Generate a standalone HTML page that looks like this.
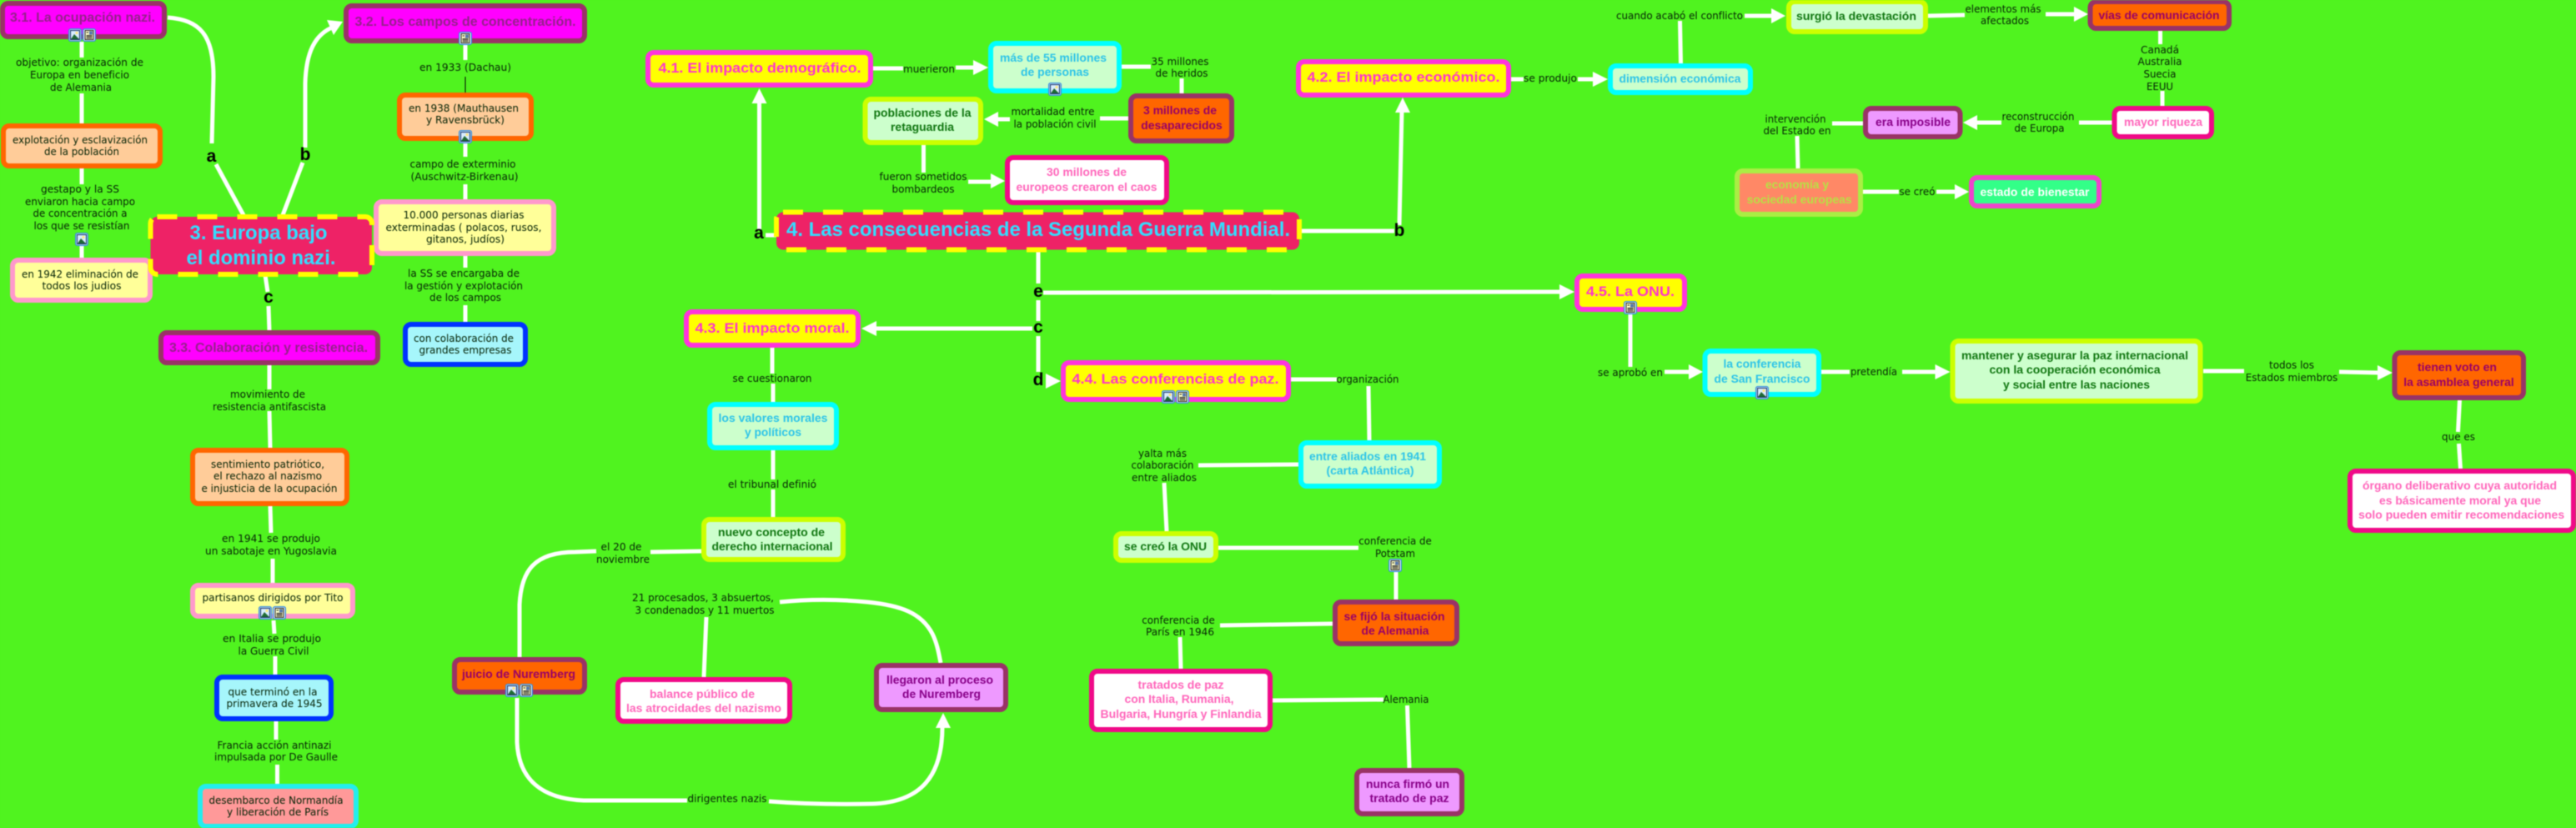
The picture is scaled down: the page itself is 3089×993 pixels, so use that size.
<!DOCTYPE html>
<html lang="es"><head><meta charset="utf-8"><title>Europa bajo el dominio nazi</title>
<style>
html,body{margin:0;padding:0;background:#50f31f;width:3089px;height:993px;overflow:hidden}
svg{display:block;filter:blur(.4px)}
.c{fill:none;stroke:#fff;stroke-width:5}
.a{fill:#fff}
rect{stroke-width:6}
.mag{fill:#f0f;stroke:#993366}.yel{fill:#ff0;stroke:#ff33dd}.cya{fill:#ccffcc;stroke:#0ff}.lim{fill:#ccffcc;stroke:#ccff00}
.org{fill:#ff6600;stroke:#993366}.wht{fill:#fff;stroke:#f00a88}.pur{fill:#ee99ff;stroke:#993366}
.peach{fill:#ffcc99;stroke:#ff6600}.lemon{fill:#ffff99;stroke:#ff99cc}.sky{fill:#a6f6fb;stroke:#0033ff}.ros{fill:#ff9999;stroke:#22eeee}
.eco{fill:#ff8866;stroke:#aaee44}.bien{fill:#33ff88;stroke:#ee44cc}
.main{fill:#ee2266;stroke:#ff0;stroke-dasharray:24 24}
text{text-anchor:middle}
.l{font:12px "DejaVu Sans",sans-serif;fill:#062406}
.b{font:bold 14px "Liberation Sans",sans-serif}
.t{font:bold 16px "Liberation Sans",sans-serif}
.t4{font:bold 17px "Liberation Sans",sans-serif;fill:#ff33cc}
.m{font:bold 24px "Liberation Sans",sans-serif;fill:#33ddff}
.k{font:bold 21px "Liberation Sans",sans-serif;fill:#000}
.pm{fill:#96208c}.pc{fill:#2cc4e8}.pg{fill:#117711}.po{fill:#990066}.pw{fill:#ff66bb}.pp{fill:#880088}
</style></head><body>
<svg xmlns="http://www.w3.org/2000/svg" width="3089" height="993" viewBox="0 0 3089 993">
<defs>
<g id="im"><rect x=".7" y=".7" width="14.6" height="14.6" rx="2" fill="#fff" stroke="#3a8fdc" style="stroke-width:1.4"/><rect x="2.5" y="2.5" width="11" height="11" fill="#d8ecff" stroke="#0b2a66" style="stroke-width:1"/><circle cx="10" cy="5.5" r="1.6" fill="#ffe680"/><path d="M3 13 L7 7 L13 13Z" fill="#1f6b33"/></g>
<g id="dc"><rect x=".7" y=".7" width="14.6" height="14.6" rx="2" fill="#fff" stroke="#3a8fdc" style="stroke-width:1.4"/><rect x="3" y="2.5" width="10" height="11" fill="#ffffc8" stroke="#222" style="stroke-width:1"/><rect x="8" y="3.5" width="4" height="4" fill="#5577aa" style="stroke-width:0"/><path d="M4.5 5h2.5M4.5 8.5h7M4.5 10h7M4.5 11.7h7" stroke="#222" fill="none"/></g>
</defs>
<rect x="0" y="0" width="3089" height="993" fill="#50f31f" style="stroke-width:0"/>

<!-- connectors: left -->
<path class="c" d="M201,21 C240,24 256,42 256,92 L254,172"/>
<path class="c" d="M259,197 L292,258"/>
<path class="c" d="M339,258 L363,195"/>
<path class="c" d="M366,177 L366,100 C367,62 378,42 398,33"/>
<polygon class="a" points="411,26 392,24 400,42"/>
<path class="c" d="M318,330 L321,350"/>
<path class="c" d="M322,367 L323,397"/>
<path class="c" d="M98,50 V69"/><path class="c" d="M98,112 V148"/><path class="c" d="M98,202 V221"/><path class="c" d="M98,295 V309"/>
<path class="c" d="M558,54 V72"/><path d="M558,92 V111" stroke="#000" stroke-width="1" fill="none"/>
<path class="c" d="M558,172 V188"/><path class="c" d="M558,221 V239"/><path class="c" d="M558,307 V321"/><path class="c" d="M558,366 V386"/>
<path class="c" d="M323,438 V467"/><path class="c" d="M323,493 L324,537"/>
<path class="c" d="M324,607 L325,639"/><path class="c" d="M327,670 V699"/><path class="c" d="M328,744 L329,760"/><path class="c" d="M330,787 L330,809"/>
<path class="c" d="M331,865 V887"/><path class="c" d="M332.5,917 V940"/>

<!-- connectors: Nuremberg -->
<path class="c" d="M623,788 L623,725 C625,685 640,662 690,662 L715,661"/>
<path class="c" d="M620,837 L620,890 C622,935 650,958 700,960 L824,960"/>
<path class="c" d="M922,961 C960,964 1000,965 1046,964 C1105,962 1130,930 1130,872"/>
<polygon class="a" points="1131,855 1122,873 1140,873"/>
<path class="c" d="M841,661 L780,662"/>
<path class="c" d="M935,722 C965,719 1000,718 1040,722 C1080,726 1105,735 1118,760 C1124,772 1126,785 1128,795"/>
<path class="c" d="M847,740 L844,812"/>

<!-- connectors: 4 -->
<path class="c" d="M1047,82 H1083"/><path class="c" d="M1146,81 H1168"/><polygon class="a" points="1185,81 1167,72 1167,90"/>
<path class="c" d="M1345,80 H1380"/><path class="c" d="M1417,94 V113"/>
<path class="c" d="M1353,142 H1319"/><path class="c" d="M1211,143 H1196"/><polygon class="a" points="1180,143 1197,134 1197,152"/>
<path class="c" d="M1107.5,174 V207"/><path class="c" d="M1161,218 H1190"/><polygon class="a" points="1205,217 1188,208 1188,226"/>
<path class="c" d="M910.5,275 V122"/><polygon class="a" points="910.5,106 901.5,124 919.5,124"/>
<path class="c" d="M918,282 H931"/>
<path class="c" d="M1561,277 H1672"/><path class="c" d="M1678,270 L1681,133"/><polygon class="a" points="1682,117 1673,135 1691,135"/>
<path class="c" d="M1245,302 V340"/><path class="c" d="M1245,360 V385"/><path class="c" d="M1245,403 V446"/>
<path class="c" d="M1251,351 L1872,350"/><polygon class="a" points="1888,350 1870,341 1870,359"/>
<path class="c" d="M1238,394 H1049"/><polygon class="a" points="1033,394 1051,385 1051,403"/>
<polygon class="a" points="1272,457 1254,448 1254,466"/>
<path class="c" d="M926,417 V448"/><path class="c" d="M927,460 V482"/><path class="c" d="M927,540 V575"/><path class="c" d="M927,587 V620"/>

<path class="c" d="M1548,455 H1603"/><path class="c" d="M1641,463 L1642,528"/>
<path class="c" d="M1557,557 L1437,558"/><path class="c" d="M1396,579 L1399,637"/>
<path class="c" d="M1461,657 H1629"/><path class="c" d="M1674,686 V719"/>
<path class="c" d="M1598,748 L1463,750"/><path class="c" d="M1415,764 L1416,802"/>
<path class="c" d="M1526,840 L1659,839"/><path class="c" d="M1687.5,846 L1690,921"/>

<path class="c" d="M1812,95 H1827"/><path class="c" d="M1892,95 H1912"/><polygon class="a" points="1928,95 1910,86 1910,104"/>
<path class="c" d="M2015.5,76 L2014.5,25"/><path class="c" d="M2092,19 H2126"/><polygon class="a" points="2141,19 2124,10 2124,28"/>
<path class="c" d="M2312,19 L2356,18"/><path class="c" d="M2453,17 H2489"/><polygon class="a" points="2504,17 2487,8 2487,26"/>
<path class="c" d="M2590.5,37 V53"/><path class="c" d="M2593,109 V127"/>
<path class="c" d="M2533,147 H2493"/><path class="c" d="M2400,147 H2369"/><polygon class="a" points="2354,147 2371,138 2371,156"/>
<path class="c" d="M2234,148 H2197"/><path class="c" d="M2155,163 L2156,202"/>
<path class="c" d="M2234,230 H2277"/><path class="c" d="M2322,230 H2346"/><polygon class="a" points="2361,230 2344,221 2344,239"/>
<path class="c" d="M1955,377 V440"/><path class="c" d="M1996,446 H2027"/><polygon class="a" points="2042,446 2025,437 2025,455"/>
<path class="c" d="M2184,446 H2218"/><path class="c" d="M2281,446 H2322"/><polygon class="a" points="2338.5,446 2320.5,437 2320.5,455"/>
<path class="c" d="M2642,445 H2691"/><path class="c" d="M2805,446 L2852,447"/><polygon class="a" points="2869,447 2851,438 2851,456"/>
<path class="c" d="M2949.5,480 L2947.5,518"/><path class="c" d="M2948.5,532 L2950.5,562"/>

<!-- nodes left -->
<rect class="mag" x="3" y="4" width="194" height="40" rx="7"/>
<rect class="mag" x="415" y="7" width="286" height="42" rx="7"/>
<rect class="peach" x="4" y="151" width="188" height="48" rx="7"/>
<rect class="lemon" x="15" y="312" width="165" height="48" rx="7"/>
<rect class="peach" x="479" y="114" width="158" height="52" rx="7"/>
<rect class="lemon" x="451" y="242" width="213" height="62" rx="7"/>
<rect class="sky" x="486" y="389" width="144" height="48" rx="7"/>
<rect class="main" x="180.5" y="260" width="265.5" height="69" rx="8"/>
<rect class="mag" x="193" y="399" width="260" height="36" rx="7"/>
<rect class="peach" x="231" y="540" width="185" height="64" rx="7"/>
<rect class="lemon" x="231" y="702" width="192" height="37" rx="7"/>
<rect class="sky" x="260" y="812" width="137" height="50" rx="7"/>
<rect class="ros" x="240" y="943" width="187" height="48" rx="7"/>
<!-- nodes 4 -->
<rect class="main" x="931" y="254.5" width="627" height="45" rx="8"/>
<rect class="yel" x="777" y="63" width="267" height="39" rx="7"/>
<rect class="cya" x="1188" y="52" width="154" height="57" rx="7"/>
<rect class="org" x="1356" y="115" width="121" height="54" rx="7"/>
<rect class="lim" x="1037.5" y="119" width="138.5" height="52" rx="7"/>
<rect class="wht" x="1208" y="189" width="191" height="54" rx="7"/>
<rect class="yel" x="823" y="374" width="206" height="40" rx="7"/>
<rect class="yel" x="1275" y="435" width="270" height="44" rx="7"/>
<rect class="cya" x="851" y="485" width="152" height="52" rx="7"/>
<rect class="lim" x="844" y="623" width="167" height="48" rx="7"/>
<rect class="org" x="545" y="791" width="156" height="39" rx="7"/>
<rect class="wht" x="741" y="815" width="206" height="50" rx="7"/>
<rect class="pur" x="1051" y="798" width="155" height="53" rx="7"/>
<rect class="cya" x="1560" y="531" width="166" height="52" rx="7"/>
<rect class="lim" x="1338" y="640" width="120" height="32" rx="7"/>
<rect class="org" x="1601" y="722" width="146" height="50" rx="7"/>
<rect class="wht" x="1309" y="805" width="214" height="70" rx="7"/>
<rect class="pur" x="1627" y="924" width="126" height="52" rx="7"/>
<rect class="yel" x="1557" y="74" width="252" height="40" rx="7"/>
<rect class="cya" x="1931" y="79" width="168" height="32" rx="7"/>
<rect class="lim" x="2145" y="2" width="164" height="36" rx="7"/>
<rect class="org" x="2506.5" y="2" width="166.5" height="32" rx="7"/>
<rect class="wht" x="2535.5" y="130" width="116.5" height="34" rx="7"/>
<rect class="pur" x="2237" y="130" width="113.5" height="34" rx="7"/>
<rect class="eco" x="2083" y="205" width="148" height="52" rx="7"/>
<rect class="bien" x="2364" y="213" width="153" height="34" rx="7"/>
<rect class="yel" x="1891" y="331" width="129" height="40" rx="7"/>
<rect class="cya" x="2044.5" y="421" width="136.5" height="52" rx="7"/>
<rect class="lim" x="2341.5" y="409" width="297" height="72" rx="7"/>
<rect class="org" x="2871.5" y="423" width="154.5" height="54" rx="7"/>
<rect class="wht" x="2818" y="565" width="268" height="71" rx="7"/>

<!-- icons -->
<use href="#im" x="82" y="34"/><use href="#dc" x="99" y="34"/>
<use href="#dc" x="550" y="38"/><use href="#im" x="550" y="156"/>
<use href="#im" x="90" y="279"/>
<use href="#im" x="310" y="727"/><use href="#dc" x="327" y="727"/>
<use href="#im" x="606" y="820"/><use href="#dc" x="623" y="820"/>
<use href="#im" x="1257" y="99"/>
<use href="#im" x="1393" y="468"/><use href="#dc" x="1410" y="468"/>
<use href="#dc" x="1665" y="670"/>
<use href="#dc" x="1947" y="361"/>
<use href="#im" x="2105" y="463"/>

<!-- link letters -->
<text class="k" x="253.5" y="194">a</text><text class="k" x="366" y="192">b</text><text class="k" x="322" y="363">c</text>
<text class="k" x="910" y="286">a</text><text class="k" x="1678" y="283">b</text>
<text class="k" x="1245" y="356">e</text><text class="k" x="1245" y="399">c</text><text class="k" x="1245" y="462">d</text>

<!-- titles -->
<text class="m" x="310" y="287" textLength="165" lengthAdjust="spacingAndGlyphs">3. Europa bajo</text>
<text class="m" x="313" y="317" textLength="179" lengthAdjust="spacingAndGlyphs">el dominio nazi.</text>
<text class="m" x="1245" y="283" textLength="604" lengthAdjust="spacingAndGlyphs">4. Las consecuencias de la Segunda Guerra Mundial.</text>
<text class="t pm" x="99" y="26" textLength="174" lengthAdjust="spacingAndGlyphs">3.1. La ocupación nazi.</text>
<text class="t pm" x="558" y="31" textLength="265" lengthAdjust="spacingAndGlyphs">3.2. Los campos de concentración.</text>
<text class="t pm" x="322" y="422" textLength="238" lengthAdjust="spacingAndGlyphs">3.3. Colaboración y resistencia.</text>
<text class="t4" x="911" y="87" textLength="243" lengthAdjust="spacingAndGlyphs">4.1. El impacto demográfico.</text>
<text class="t4" x="1683" y="98" textLength="231" lengthAdjust="spacingAndGlyphs">4.2. El impacto económico.</text>
<text class="t4" x="926" y="399" textLength="185" lengthAdjust="spacingAndGlyphs">4.3. El impacto moral.</text>
<text class="t4" x="1409.5" y="460" textLength="248" lengthAdjust="spacingAndGlyphs">4.4. Las conferencias de paz.</text>
<text class="t4" x="1955" y="355" textLength="106" lengthAdjust="spacingAndGlyphs">4.5. La ONU.</text>

<!-- regular node & link text -->
<text class="l" x="95.5" y="79" textLength="153" lengthAdjust="spacingAndGlyphs">objetivo: organización de</text>
<text class="l" x="95.5" y="94" textLength="119" lengthAdjust="spacingAndGlyphs">Europa en beneficio</text>
<text class="l" x="97" y="109" textLength="74" lengthAdjust="spacingAndGlyphs">de Alemania</text>
<text class="l" x="96" y="172" textLength="162" lengthAdjust="spacingAndGlyphs">explotación y esclavización</text>
<text class="l" x="98" y="186" textLength="90" lengthAdjust="spacingAndGlyphs">de la población</text>
<text class="l" x="96" y="231" textLength="94" lengthAdjust="spacingAndGlyphs">gestapo y la SS</text>
<text class="l" x="96" y="246" textLength="132" lengthAdjust="spacingAndGlyphs">enviaron hacia campo</text>
<text class="l" x="96" y="260" textLength="113" lengthAdjust="spacingAndGlyphs">de concentración a</text>
<text class="l" x="98" y="275" textLength="115" lengthAdjust="spacingAndGlyphs">los que se resistían</text>
<text class="l" x="96" y="333" textLength="140" lengthAdjust="spacingAndGlyphs">en 1942 eliminación de</text>
<text class="l" x="98" y="347" textLength="95" lengthAdjust="spacingAndGlyphs">todos los judios</text>

<text class="l" x="558" y="85" textLength="110" lengthAdjust="spacingAndGlyphs">en 1933 (Dachau)</text>
<text class="l" x="556" y="134" textLength="132" lengthAdjust="spacingAndGlyphs">en 1938 (Mauthausen</text>
<text class="l" x="558" y="148" textLength="94" lengthAdjust="spacingAndGlyphs">y Ravensbrück)</text>
<text class="l" x="555" y="201" textLength="127" lengthAdjust="spacingAndGlyphs">campo de exterminio</text>
<text class="l" x="557" y="216" textLength="129" lengthAdjust="spacingAndGlyphs">(Auschwitz-Birkenau)</text>
<text class="l" x="556" y="262" textLength="145" lengthAdjust="spacingAndGlyphs">10.000 personas diarias</text>
<text class="l" x="556" y="277" textLength="187" lengthAdjust="spacingAndGlyphs">exterminadas ( polacos, rusos,</text>
<text class="l" x="558" y="291" textLength="94" lengthAdjust="spacingAndGlyphs">gitanos, judíos)</text>
<text class="l" x="556" y="332" textLength="134" lengthAdjust="spacingAndGlyphs">la SS se encargaba de</text>
<text class="l" x="556" y="347" textLength="142" lengthAdjust="spacingAndGlyphs">la gestión y explotación</text>
<text class="l" x="558" y="361" textLength="86" lengthAdjust="spacingAndGlyphs">de los campos</text>
<text class="l" x="556" y="410" textLength="120" lengthAdjust="spacingAndGlyphs">con colaboración de</text>
<text class="l" x="558" y="424" textLength="111" lengthAdjust="spacingAndGlyphs">grandes empresas</text>

<text class="l" x="321" y="477" textLength="90" lengthAdjust="spacingAndGlyphs">movimiento de</text>
<text class="l" x="323" y="492" textLength="136" lengthAdjust="spacingAndGlyphs">resistencia antifascista</text>
<text class="l" x="321" y="561" textLength="136" lengthAdjust="spacingAndGlyphs">sentimiento patriótico,</text>
<text class="l" x="321" y="575" textLength="130" lengthAdjust="spacingAndGlyphs">el rechazo al nazismo</text>
<text class="l" x="323" y="590" textLength="163" lengthAdjust="spacingAndGlyphs">e injusticia de la ocupación</text>
<text class="l" x="325" y="650" textLength="118" lengthAdjust="spacingAndGlyphs">en 1941 se produjo</text>
<text class="l" x="325" y="665" textLength="158" lengthAdjust="spacingAndGlyphs">un sabotaje en Yugoslavia</text>
<text class="l" x="327" y="721" textLength="169" lengthAdjust="spacingAndGlyphs">partisanos dirigidos por Tito</text>
<text class="l" x="326" y="770" textLength="118" lengthAdjust="spacingAndGlyphs">en Italia se produjo</text>
<text class="l" x="328" y="785" textLength="85" lengthAdjust="spacingAndGlyphs">la Guerra Civil</text>
<text class="l" x="327" y="834" textLength="107" lengthAdjust="spacingAndGlyphs">que terminó en la</text>
<text class="l" x="329" y="848" textLength="115" lengthAdjust="spacingAndGlyphs">primavera de 1945</text>
<text class="l" x="329" y="898" textLength="137" lengthAdjust="spacingAndGlyphs">Francia acción antinazi</text>
<text class="l" x="331" y="912" textLength="148" lengthAdjust="spacingAndGlyphs">impulsada por De Gaulle</text>
<text class="l" x="331" y="964" textLength="161" lengthAdjust="spacingAndGlyphs">desembarco de Normandía</text>
<text class="l" x="333" y="978" textLength="122" lengthAdjust="spacingAndGlyphs">y liberación de París</text>

<text class="l" x="1114" y="87" textLength="62" lengthAdjust="spacingAndGlyphs">muerieron</text>
<text class="l" x="1415" y="78" textLength="69" lengthAdjust="spacingAndGlyphs">35 millones</text>
<text class="l" x="1417" y="92" textLength="63" lengthAdjust="spacingAndGlyphs">de heridos</text>
<text class="l" x="1262.5" y="138" textLength="100" lengthAdjust="spacingAndGlyphs">mortalidad entre</text>
<text class="l" x="1265" y="153" textLength="99" lengthAdjust="spacingAndGlyphs">la población civil</text>
<text class="l" x="1107" y="216" textLength="105" lengthAdjust="spacingAndGlyphs">fueron sometidos</text>
<text class="l" x="1107" y="231" textLength="75" lengthAdjust="spacingAndGlyphs">bombardeos</text>
<text class="l" x="926" y="458" textLength="95" lengthAdjust="spacingAndGlyphs">se cuestionaron</text>
<text class="l" x="926" y="585" textLength="106" lengthAdjust="spacingAndGlyphs">el tribunal definió</text>
<text class="l" x="745" y="660" textLength="49" lengthAdjust="spacingAndGlyphs">el 20 de</text>
<text class="l" x="747" y="675" textLength="64" lengthAdjust="spacingAndGlyphs">noviembre</text>
<text class="l" x="843" y="721" textLength="170" lengthAdjust="spacingAndGlyphs">21 procesados, 3 absuertos,</text>
<text class="l" x="845" y="736" textLength="167" lengthAdjust="spacingAndGlyphs">3 condenados y 11 muertos</text>
<text class="l" x="872" y="962" textLength="95" lengthAdjust="spacingAndGlyphs">dirigentes nazis</text>

<text class="l" x="1640" y="459" textLength="75" lengthAdjust="spacingAndGlyphs">organización</text>
<text class="l" x="1394" y="548" textLength="58" lengthAdjust="spacingAndGlyphs">yalta más</text>
<text class="l" x="1394" y="562" textLength="75" lengthAdjust="spacingAndGlyphs">colaboración</text>
<text class="l" x="1396" y="577" textLength="78" lengthAdjust="spacingAndGlyphs">entre aliados</text>
<text class="l" x="1673" y="653" textLength="87.5" lengthAdjust="spacingAndGlyphs">conferencia de</text>
<text class="l" x="1673" y="668" textLength="48" lengthAdjust="spacingAndGlyphs">Potstam</text>
<text class="l" x="1413" y="748" textLength="87.5" lengthAdjust="spacingAndGlyphs">conferencia de</text>
<text class="l" x="1415" y="762" textLength="82" lengthAdjust="spacingAndGlyphs">París en 1946</text>
<text class="l" x="1686" y="843" textLength="55" lengthAdjust="spacingAndGlyphs">Alemania</text>

<text class="l" x="1859" y="98" textLength="64" lengthAdjust="spacingAndGlyphs">se produjo</text>
<text class="l" x="2014" y="23" textLength="152" lengthAdjust="spacingAndGlyphs">cuando acabó el conflicto</text>
<text class="l" x="2402" y="15" textLength="91" lengthAdjust="spacingAndGlyphs">elementos más</text>
<text class="l" x="2404" y="29" textLength="58" lengthAdjust="spacingAndGlyphs">afectados</text>
<text class="l" x="2590" y="64" textLength="46" lengthAdjust="spacingAndGlyphs">Canadá</text>
<text class="l" x="2590" y="78" textLength="53" lengthAdjust="spacingAndGlyphs">Australia</text>
<text class="l" x="2590" y="93" textLength="39" lengthAdjust="spacingAndGlyphs">Suecia</text>
<text class="l" x="2590" y="108" textLength="32" lengthAdjust="spacingAndGlyphs">EEUU</text>
<text class="l" x="2444" y="144" textLength="87" lengthAdjust="spacingAndGlyphs">reconstrucción</text>
<text class="l" x="2445.5" y="158" textLength="60" lengthAdjust="spacingAndGlyphs">de Europa</text>
<text class="l" x="2153" y="147" textLength="73" lengthAdjust="spacingAndGlyphs">intervención</text>
<text class="l" x="2155" y="161" textLength="81" lengthAdjust="spacingAndGlyphs">del Estado en</text>
<text class="l" x="2299" y="234" textLength="43" lengthAdjust="spacingAndGlyphs">se creó</text>
<text class="l" x="1955" y="451" textLength="78" lengthAdjust="spacingAndGlyphs">se aprobó en</text>
<text class="l" x="2247" y="450" textLength="56" lengthAdjust="spacingAndGlyphs">pretendía</text>
<text class="l" x="2748" y="442" textLength="54" lengthAdjust="spacingAndGlyphs">todos los</text>
<text class="l" x="2748" y="457" textLength="110.6" lengthAdjust="spacingAndGlyphs">Estados miembros</text>
<text class="l" x="2948" y="528" textLength="40" lengthAdjust="spacingAndGlyphs">que es</text>

<!-- bold node text -->
<text class="b pc" x="1263" y="74" textLength="128" lengthAdjust="spacingAndGlyphs">más de 55 millones</text>
<text class="b pc" x="1265" y="91" textLength="82" lengthAdjust="spacingAndGlyphs">de personas</text>
<text class="b po" x="1415" y="137" textLength="88" lengthAdjust="spacingAndGlyphs">3 millones de</text>
<text class="b po" x="1417" y="155" textLength="97.5" lengthAdjust="spacingAndGlyphs">desaparecidos</text>
<text class="b pg" x="1106" y="140" textLength="117" lengthAdjust="spacingAndGlyphs">poblaciones de la</text>
<text class="b pg" x="1106" y="157" textLength="76" lengthAdjust="spacingAndGlyphs">retaguardia</text>
<text class="b pw" x="1303" y="211" textLength="96" lengthAdjust="spacingAndGlyphs">30 millones de</text>
<text class="b pw" x="1303" y="229" textLength="169" lengthAdjust="spacingAndGlyphs">europeos crearon el caos</text>
<text class="b pc" x="927" y="506" textLength="131" lengthAdjust="spacingAndGlyphs">los valores morales</text>
<text class="b pc" x="927" y="523" textLength="68" lengthAdjust="spacingAndGlyphs">y políticos</text>
<text class="b pg" x="925" y="643" textLength="128" lengthAdjust="spacingAndGlyphs">nuevo concepto de</text>
<text class="b pg" x="926" y="660" textLength="145" lengthAdjust="spacingAndGlyphs">derecho internacional</text>
<text class="b po" x="622" y="813" textLength="136" lengthAdjust="spacingAndGlyphs">juicio de Nuremberg</text>
<text class="b pw" x="842" y="837" textLength="126" lengthAdjust="spacingAndGlyphs">balance público de</text>
<text class="b pw" x="844" y="854" textLength="186" lengthAdjust="spacingAndGlyphs">las atrocidades del nazismo</text>
<text class="b pp" x="1127" y="820" textLength="128" lengthAdjust="spacingAndGlyphs">llegaron al proceso</text>
<text class="b pp" x="1129" y="837" textLength="94" lengthAdjust="spacingAndGlyphs">de Nuremberg</text>
<text class="b pc" x="1640" y="552" textLength="140" lengthAdjust="spacingAndGlyphs">entre aliados en 1941</text>
<text class="b pc" x="1643" y="569" textLength="105" lengthAdjust="spacingAndGlyphs">(carta Atlántica)</text>
<text class="b pg" x="1397.5" y="660" textLength="99" lengthAdjust="spacingAndGlyphs">se creó la ONU</text>
<text class="b po" x="1672" y="744" textLength="121" lengthAdjust="spacingAndGlyphs">se fijó la situación</text>
<text class="b po" x="1673" y="761" textLength="81" lengthAdjust="spacingAndGlyphs">de Alemania</text>
<text class="b pw" x="1416" y="826" textLength="103" lengthAdjust="spacingAndGlyphs">tratados de paz</text>
<text class="b pw" x="1414" y="843" textLength="131" lengthAdjust="spacingAndGlyphs">con Italia, Rumania,</text>
<text class="b pw" x="1416" y="861" textLength="193" lengthAdjust="spacingAndGlyphs">Bulgaria, Hungría y Finlandia</text>
<text class="b pp" x="1688" y="945" textLength="100" lengthAdjust="spacingAndGlyphs">nunca firmó un</text>
<text class="b pp" x="1690" y="962" textLength="95" lengthAdjust="spacingAndGlyphs">tratado de paz</text>
<text class="b pc" x="2014.5" y="99" textLength="146" lengthAdjust="spacingAndGlyphs">dimensión económica</text>
<text class="b pg" x="2226" y="24" textLength="144" lengthAdjust="spacingAndGlyphs">surgió la devastación</text>
<text class="b po" x="2589" y="23" textLength="145" lengthAdjust="spacingAndGlyphs">vías de comunicación</text>
<text class="b pw" x="2594" y="151" textLength="94" lengthAdjust="spacingAndGlyphs">mayor riqueza</text>
<text class="b pp" x="2294" y="151" textLength="90" lengthAdjust="spacingAndGlyphs">era imposible</text>
<text class="b" style="fill:#b8e044" x="2155" y="226" textLength="76" lengthAdjust="spacingAndGlyphs">economía y</text>
<text class="b" style="fill:#b8e044" x="2157.6" y="244" textLength="126" lengthAdjust="spacingAndGlyphs">sociedad europeas</text>
<text class="b" style="fill:#fff" x="2440" y="235" textLength="131" lengthAdjust="spacingAndGlyphs">estado de bienestar</text>
<text class="b pc" x="2113" y="441" textLength="93" lengthAdjust="spacingAndGlyphs">la conferencia</text>
<text class="b pc" x="2113" y="459" textLength="115" lengthAdjust="spacingAndGlyphs">de San Francisco</text>
<text class="b pg" x="2488" y="431" textLength="272" lengthAdjust="spacingAndGlyphs">mantener y asegurar la paz internacional</text>
<text class="b pg" x="2488" y="448" textLength="205" lengthAdjust="spacingAndGlyphs">con la cooperación económica</text>
<text class="b pg" x="2490" y="466" textLength="176" lengthAdjust="spacingAndGlyphs">y social entre las naciones</text>
<text class="b po" x="2946.5" y="445" textLength="95" lengthAdjust="spacingAndGlyphs">tienen voto en</text>
<text class="b po" x="2948.5" y="463" textLength="132.5" lengthAdjust="spacingAndGlyphs">la asamblea general</text>
<text class="b pw" x="2949.5" y="587" textLength="233" lengthAdjust="spacingAndGlyphs">órgano deliberativo cuya autoridad</text>
<text class="b pw" x="2950" y="605" textLength="194" lengthAdjust="spacingAndGlyphs">es básicamente moral ya que</text>
<text class="b pw" x="2951.6" y="622" textLength="247" lengthAdjust="spacingAndGlyphs">solo pueden emitir recomendaciones</text>
</svg>
</body></html>
